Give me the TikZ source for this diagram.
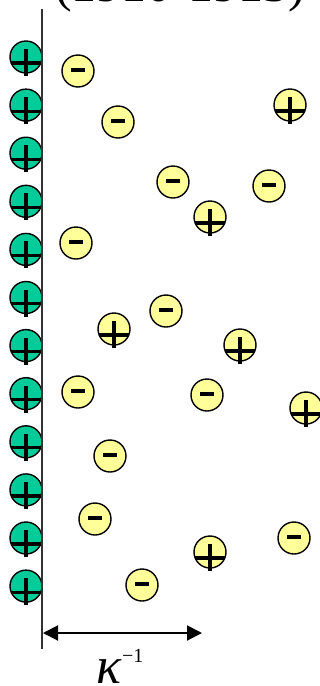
\documentclass[tikz,border=0pt]{standalone}
\usepackage{fontspec}
\setmainfont{Liberation Serif}
\usetikzlibrary{arrows.meta}
\definecolor{wallgreen}{RGB}{0,204,153}
\definecolor{ionyellow}{RGB}{255,255,153}
\tikzset{
  ion/.style={circle, draw=black, line width=1.4pt, minimum size=32pt, inner sep=0pt},
  wallion/.style={ion, fill=wallgreen},
  freeion/.style={ion, fill=ionyellow},
  signline/.style={line width=3.2pt, black},
  minusline/.style={line width=4.5pt, black},
  wallline/.style={line width=1.8pt, black!80},
  dim/.style={line width=2pt, black, {Triangle[length=15pt,width=15pt]}-{Triangle[length=15pt,width=15pt]}}
}
\newcommand{\plussign}[1]{%
  \draw[signline] ([yshift=8pt]#1.center) -- ([yshift=-19pt]#1.center);
  \draw[signline] ([xshift=-15pt,yshift=-6pt]#1.center) -- ([xshift=15pt,yshift=-6pt]#1.center);}
\newcommand{\minussign}[1]{%
  \draw[minusline] ([xshift=-7pt,yshift=1pt]#1.center) -- ([xshift=7pt,yshift=1pt]#1.center);}
\begin{document}
\begin{tikzpicture}[x=1pt,y=-1pt]
\useasboundingbox (0,0) rectangle (320,686);
\begin{scope}
\clip (0,0) rectangle (320,686);
% title (clipped at top)
\node[anchor=base, inner sep=0pt, font=\fontsize{50}{56}\selectfont] (title) at (180,1.8) {(1910-1913)};
% wall ions
\foreach \i in {0,...,11} {
  \node[wallion] (w\i) at (26,{57+48.1*\i}) {};
  \plussign{w\i}
}
% free negative ions
\foreach \n/\x/\y in {m1/78/71, m2/118/122, m3/173/182, m4/269/186, m5/76/243, m6/166/311,
  m7/78/392, m8/207/395, m9/110/456, m10/95/519, m11/294/538, m12/142/585} {
  \node[freeion] (\n) at (\x,\y) {};
  \minussign{\n}
}
% free positive ions
\foreach \n/\x/\y in {p1/290/105, p2/210/217, p3/114/329, p4/240/345, p5/306/408, p6/210/552} {
  \node[freeion] (\n) at (\x,\y) {};
  \plussign{\n}
}
% wall line
\coordinate (walltop) at (42,9);
\coordinate (wallbot) at (42,649);
\draw[wallline] (walltop) -- (wallbot);
% Debye length
\coordinate (dimL) at (43,633);
\coordinate (dimR) at (202,633);
\draw[dim] (dimL) -- (dimR);
\node[anchor=base west, inner sep=0pt, font=\fontsize{52}{56}\selectfont\itshape] (kappa) at (96,683) {κ};
\node[anchor=base west, inner sep=0pt, font=\fontsize{20}{24}\selectfont] (exp) at (122,662) {−1};
\end{scope}
\end{tikzpicture}
\end{document}
